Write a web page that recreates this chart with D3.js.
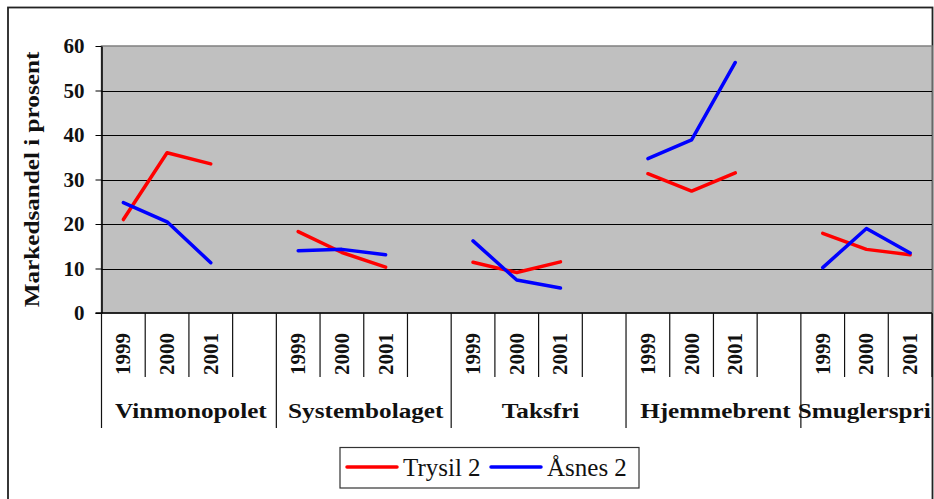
<!DOCTYPE html>
<html><head><meta charset="utf-8">
<script src="https://cdn.jsdelivr.net/npm/d3@7"></script>
<style>
html,body{margin:0;padding:0;background:#fff;}
svg{display:block;}
</style></head>
<body>
<script>
const groups = ["Vinmonopolet","Systembolaget","Taksfri","Hjemmebrent","Smuglersprit"];
const years = ["1999","2000","2001"];
const trysil = [[21.0,36.0,33.5],[18.3,13.6,10.3],[11.4,9.1,11.5],[31.3,27.4,31.5],[17.9,14.3,13.1]];
const asnes  = [[24.8,20.5,11.3],[14.0,14.3,13.1],[16.2,7.4,5.6],[34.7,38.9,56.3],[10.2,19.0,13.5]];
const yTicks = [0,10,20,30,40,50,60];
const seriesNames = ["Trysil 2","Åsnes 2"];
const seriesColors = ["#ff0000","#0000ff"];

const W = 934, H = 499;
const L = 101.5, R = 932, T = 46, B = 313;
const nSlots = groups.length*4 - 1;
const svg = d3.select("body").append("svg").attr("width",W).attr("height",H);
const font = "'Liberation Serif', 'Times New Roman', serif";
const sx = 1.2;

// outer frame
svg.append("rect").attr("x",8).attr("y",7.5).attr("width",924.5).attr("height",H)
  .attr("fill","#fff").attr("stroke","#222").attr("stroke-width",1.8);

const x = d3.scaleLinear().domain([0,nSlots]).range([L,R]);
const y = d3.scaleLinear().domain([0,60]).range([B,T]);

// plot area
svg.append("rect").attr("x",L).attr("y",T).attr("width",R-L).attr("height",B-T)
  .attr("fill","#c0c0c0").attr("stroke","#808080").attr("stroke-width",1.5);

// gridlines
svg.append("g").selectAll("line").data(yTicks.filter(d=>d>0 && d<60)).join("line")
  .attr("x1",L).attr("x2",R).attr("y1",d=>Math.round(y(d))+0.5).attr("y2",d=>Math.round(y(d))+0.5)
  .attr("stroke","#000").attr("stroke-width",1);

// y axis
const ya = svg.append("g").attr("transform",`translate(${L},0)`)
  .call(d3.axisLeft(y).tickValues(yTicks).tickSize(6).tickPadding(11).tickSizeOuter(0));
ya.attr("font-family",null);
ya.select(".domain").attr("stroke","#000").attr("stroke-width",1.5);
ya.selectAll(".tick line").attr("stroke","#000").attr("stroke-width",1);
ya.selectAll("text").attr("font-family",font).attr("font-weight","bold").attr("font-size",21).attr("fill","#111");

// x axis baseline
svg.append("line").attr("x1",L-6).attr("x2",R).attr("y1",B).attr("y2",B).attr("stroke","#000").attr("stroke-width",1.5);

// x slot boundaries
const bounds = d3.range(0,nSlots+1);
svg.append("g").selectAll("line").data(bounds).join("line")
  .attr("x1",d=>x(d)).attr("x2",d=>x(d)).attr("y1",B)
  .attr("y2",d=> (d%4===0) ? 428 : 377)
  .attr("stroke","#111").attr("stroke-width",1.2);

// year labels
const yearData = [];
groups.forEach((g,gi)=>years.forEach((yr,yi)=>yearData.push({slot:gi*4+yi,label:yr})));
svg.append("g").selectAll("text").data(yearData).join("text")
  .attr("transform",d=>`translate(${x(d.slot+0.5)+7},${333}) rotate(-90) scale(1.05,1)`)
  .attr("text-anchor","end")
  .attr("font-family",font).attr("font-weight","bold").attr("font-size",20).attr("fill","#111")
  .text(d=>d.label);

// group labels
svg.append("clipPath").attr("id","clipR").append("rect").attr("x",0).attr("y",0).attr("width",931).attr("height",H);
svg.append("g").attr("clip-path","url(#clipR)").selectAll("text").data(groups).join("text")
  .attr("transform",(d,i)=>`translate(${(x(i*4) + x(Math.min(i*4+4,nSlots)))/2 + 2},418) scale(${sx},1)`)
  .attr("text-anchor","middle")
  .attr("font-family",font).attr("font-weight","bold").attr("font-size",21).attr("fill","#111")
  .text(d=>d);

// y title
svg.append("text").attr("transform",`translate(39,${(T+B)/2}) rotate(-90) scale(${sx},1)`)
  .attr("text-anchor","middle").attr("font-family",font).attr("font-weight","bold").attr("font-size",21).attr("fill","#111")
  .text("Markedsandel i prosent");

// series lines
const line = d3.line().x(d=>x(d.slot+0.5)).y(d=>y(d.v));
[trysil,asnes].forEach((ser,si)=>{
  ser.forEach((vals,gi)=>{
    const pts = vals.map((v,yi)=>({slot:gi*4+yi,v}));
    svg.append("path").datum(pts).attr("d",line).attr("fill","none")
      .attr("stroke",seriesColors[si]).attr("stroke-width",3.5).attr("stroke-linecap","round").attr("stroke-linejoin","round");
  });
});

// legend
const lg = svg.append("g");
lg.append("rect").attr("x",340).attr("y",447.5).attr("width",299).attr("height",40.5)
  .attr("fill","#fff").attr("stroke","#333").attr("stroke-width",1.2);
const legX = [347,491];
seriesNames.forEach((n,i)=>{
  lg.append("line").attr("x1",legX[i]).attr("x2",legX[i]+50).attr("y1",467).attr("y2",467)
    .attr("stroke",seriesColors[i]).attr("stroke-width",3.5).attr("stroke-linecap","round");
  lg.append("text").attr("x",legX[i]+56).attr("y",476).attr("font-family",font).attr("font-size",25).attr("fill","#111").text(n);
});
</script>
</body></html>
